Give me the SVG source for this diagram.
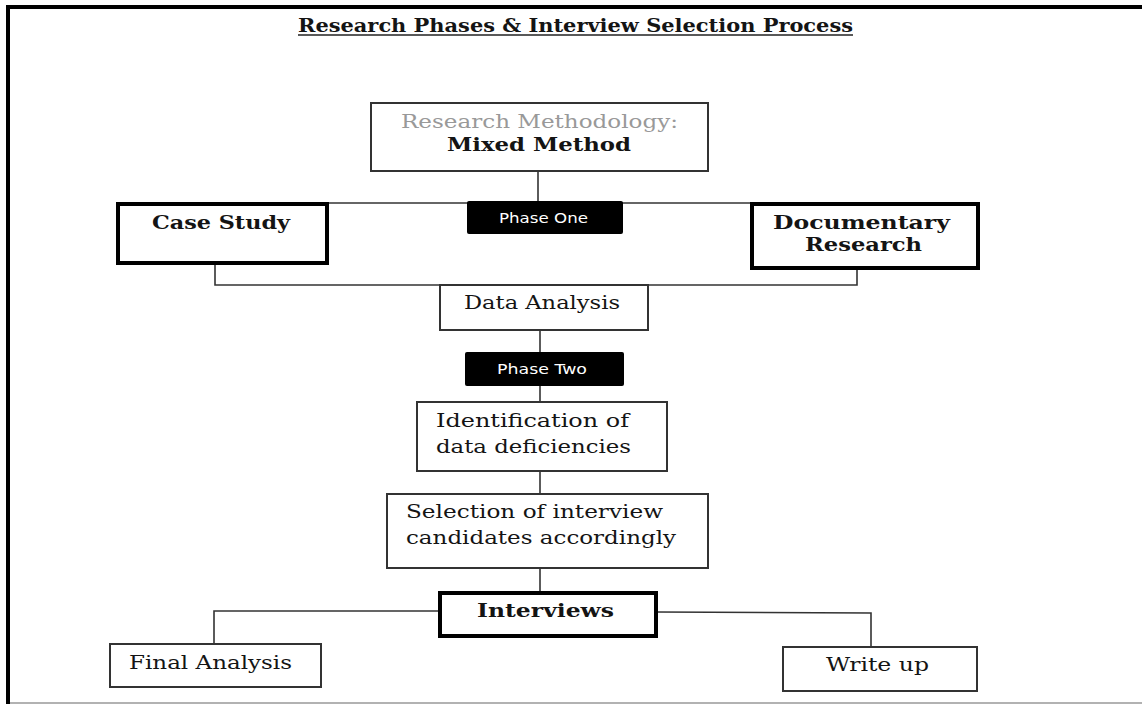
<svg xmlns="http://www.w3.org/2000/svg" width="1142" height="704" viewBox="0 0 1142 704">
<style>
.t{font-family:"DejaVu Serif","Liberation Serif",serif;fill:#141414;font-size:18.5px}
.b{font-weight:bold;font-size:19px}
.box{fill:#fff;stroke:#333;stroke-width:2}
.thick{fill:#fff;stroke:#000;stroke-width:4}
.ph{fill:#000;stroke:none}
.pt{font-family:"DejaVu Sans","Liberation Sans",sans-serif;font-size:14px;fill:#fff}
.c{fill:none;stroke:#333;stroke-width:1.6}
</style>
<rect width="1142" height="704" fill="#fff"/>
<g id="frame">
<line x1="8" y1="7" x2="1142" y2="7" stroke="#000" stroke-width="4"/>
<line x1="8" y1="5" x2="8" y2="704" stroke="#000" stroke-width="4"/>
<line x1="10" y1="703" x2="1142" y2="703" stroke="#999" stroke-width="1.5"/>
</g>
<g id="title">
<text class="t b" x="298" y="32" textLength="555" lengthAdjust="spacingAndGlyphs">Research Phases &amp; Interview Selection Process</text>
<line x1="298" y1="35" x2="853" y2="35" stroke="#222" stroke-width="1.5"/>
</g>
<g id="connectors">
<line class="c" x1="538" y1="171" x2="538" y2="203"/>
<line class="c" x1="329" y1="203" x2="750" y2="203"/>
<polyline class="c" points="215,265 215,285 857,285 857,269"/>
<line class="c" x1="540" y1="330" x2="540" y2="352"/>
<line class="c" x1="540" y1="386" x2="540" y2="402"/>
<line class="c" x1="540" y1="471" x2="540" y2="494"/>
<line class="c" x1="540" y1="568" x2="540" y2="591"/>
<polyline class="c" points="439,611 214,611 214,644"/>
<polyline class="c" points="657,612 871,613 871,647"/>
</g>
<g id="methodology">
<rect class="box" x="371" y="103" width="337" height="68"/>
<text class="t" x="401" y="128" style="fill:#999" textLength="277" lengthAdjust="spacingAndGlyphs">Research Methodology:</text>
<text class="t b" x="447" y="151" textLength="184" lengthAdjust="spacingAndGlyphs">Mixed Method</text>
</g>
<g id="phase-one">
<rect class="ph" x="467" y="201" width="156" height="33" rx="2"/>
<text class="pt" x="499" y="223" textLength="89" lengthAdjust="spacingAndGlyphs">Phase One</text>
</g>
<g id="case-study">
<rect class="thick" x="118" y="204" width="209" height="59"/>
<text class="t b" x="152" y="229" textLength="138" lengthAdjust="spacingAndGlyphs">Case Study</text>
</g>
<g id="documentary">
<rect class="thick" x="752" y="204" width="226" height="64"/>
<text class="t b" x="773" y="229" textLength="177" lengthAdjust="spacingAndGlyphs">Documentary</text>
<text class="t b" x="805" y="251" textLength="117" lengthAdjust="spacingAndGlyphs">Research</text>
</g>
<g id="data-analysis">
<rect class="box" x="440" y="285" width="208" height="45"/>
<text class="t" x="464" y="309" textLength="156" lengthAdjust="spacingAndGlyphs">Data Analysis</text>
</g>
<g id="phase-two">
<rect class="ph" x="465" y="352" width="159" height="34" rx="2"/>
<text class="pt" x="497" y="374" textLength="90" lengthAdjust="spacingAndGlyphs">Phase Two</text>
</g>
<g id="identification">
<rect class="box" x="417" y="402" width="250" height="69"/>
<text class="t" x="436" y="427" textLength="193" lengthAdjust="spacingAndGlyphs">Identification of</text>
<text class="t" x="436" y="453" textLength="195" lengthAdjust="spacingAndGlyphs">data deficiencies</text>
</g>
<g id="selection">
<rect class="box" x="387" y="494" width="321" height="74"/>
<text class="t" x="406" y="518" textLength="257" lengthAdjust="spacingAndGlyphs">Selection of interview</text>
<text class="t" x="406" y="544" textLength="270" lengthAdjust="spacingAndGlyphs">candidates accordingly</text>
</g>
<g id="interviews">
<rect class="thick" x="440" y="593" width="216" height="43"/>
<text class="t b" x="477" y="617" textLength="137" lengthAdjust="spacingAndGlyphs">Interviews</text>
</g>
<g id="final-analysis">
<rect class="box" x="110" y="644" width="211" height="43"/>
<text class="t" x="129" y="669" textLength="163" lengthAdjust="spacingAndGlyphs">Final Analysis</text>
</g>
<g id="write-up">
<rect class="box" x="783" y="647" width="194" height="44"/>
<text class="t" x="826" y="671" textLength="103" lengthAdjust="spacingAndGlyphs">Write up</text>
</g>
</svg>
